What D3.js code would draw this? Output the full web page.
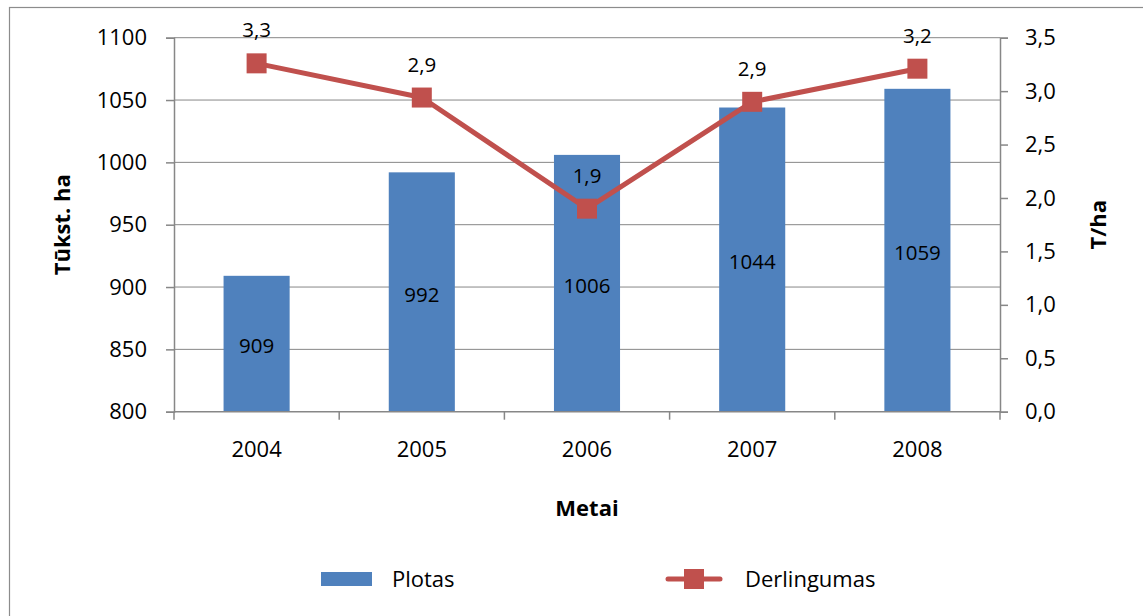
<!DOCTYPE html>
<html>
<head>
<meta charset="utf-8">
<script src="https://cdn.jsdelivr.net/npm/d3@7/dist/d3.min.js"></script>
<style>
  html, body { margin: 0; padding: 0; background: #fff; }
  svg { display: block; font-family: "Open Sans", sans-serif; }
</style>
</head>
<body>
<svg id="chart" width="1143" height="616"></svg>
<script>
const years = ["2004", "2005", "2006", "2007", "2008"];
const plotas = [909, 992, 1006, 1044, 1059];
const derlingumas = [3.26, 2.94, 1.9, 2.9, 3.21];
const derlingumasLabels = ["3,3", "2,9", "1,9", "2,9", "3,2"];
const leftTicks = [800, 850, 900, 950, 1000, 1050, 1100];
const rightTicks = [0, 0.5, 1, 1.5, 2, 2.5, 3, 3.5];

const svg = d3.select("#chart");
const L = 174, R = 1000, T = 37.7, B = 411.7;
const gridColor = "#878787";
const barColor = "#4F81BD";
const lineColor = "#C0504D";

// outer border
svg.append("rect").attr("x", 9.5).attr("y", 7.5).attr("width", 1150).attr("height", 620)
  .attr("fill", "none").attr("stroke", "#8c8c8c").attr("stroke-width", 1.2);

const x = d3.scaleBand().domain(years).range([L, R]).paddingInner(0.6).paddingOuter(0.3);
const yL = d3.scaleLinear().domain([800, 1100]).range([B, T]);
const yR = d3.scaleLinear().domain([0, 3.5]).range([B, T]);

// gridlines
svg.append("g").selectAll("line").data(leftTicks.filter(d => d !== 800)).join("line")
  .attr("x1", L).attr("x2", R).attr("y1", d => yL(d)).attr("y2", d => yL(d))
  .attr("stroke", gridColor).attr("stroke-width", 1);

// bars
svg.append("g").selectAll("rect").data(years).join("rect")
  .attr("x", d => x(d)).attr("width", x.bandwidth())
  .attr("y", (d, i) => yL(plotas[i])).attr("height", (d, i) => B - yL(plotas[i]))
  .attr("fill", barColor);

// left axis
const gL = svg.append("g").attr("transform", `translate(${L},0)`)
  .call(d3.axisLeft(yL).tickValues(leftTicks).tickSize(8).tickPadding(19).tickFormat(d3.format("d")));
// right axis
const gR = svg.append("g").attr("transform", `translate(${R},0)`)
  .call(d3.axisRight(yR).tickValues(rightTicks).tickSize(8).tickPadding(17)
    .tickFormat(d => d.toFixed(1).replace(".", ",")));
// bottom axis
const gB = svg.append("g").attr("transform", `translate(0,${B})`)
  .call(d3.axisBottom(x).tickSize(0).tickPadding(30));
[gL, gR, gB].forEach(g => {
  g.select(".domain").attr("stroke", gridColor).attr("stroke-width", 1.5);
  g.selectAll(".tick line").attr("stroke", gridColor).attr("stroke-width", 1.5);
  g.selectAll("text").attr("font-size", 22).attr("fill", "#000").attr("font-family", "Open Sans");
});
gB.select(".domain").attr("d", `M${L},0H${R}`);
// category boundary ticks
const bounds = years.map(d => x(d) - x.step() * x.paddingInner() / 2).concat([R]);
bounds[0] = L;
gB.selectAll(".bt").data(bounds).join("line").attr("class", "bt")
  .attr("x1", d => d).attr("x2", d => d).attr("y1", 0).attr("y2", 8)
  .attr("stroke", gridColor).attr("stroke-width", 1.5);

// bar labels
svg.append("g").selectAll("text").data(years).join("text")
  .attr("x", d => x(d) + x.bandwidth() / 2)
  .attr("y", (d, i) => (yL(plotas[i]) + B) / 2 + 1.5)
  .attr("text-anchor", "middle").attr("dominant-baseline", "central")
  .attr("font-size", 20.5).attr("fill", "#000")
  .text((d, i) => plotas[i]);

// line
const cx = d => x(d) + x.bandwidth() / 2;
const line = d3.line().x((d, i) => cx(years[i])).y(d => yR(d));
svg.append("path").datum(derlingumas).attr("d", line)
  .attr("fill", "none").attr("stroke", lineColor).attr("stroke-width", 5).attr("stroke-linejoin", "round");
svg.append("g").selectAll("rect").data(derlingumas).join("rect")
  .attr("x", (d, i) => cx(years[i]) - 10).attr("y", d => yR(d) - 10)
  .attr("width", 20).attr("height", 20).attr("fill", lineColor);
svg.append("g").selectAll("text").data(derlingumas).join("text")
  .attr("x", (d, i) => cx(years[i])).attr("y", d => yR(d) - 34)
  .attr("text-anchor", "middle").attr("dominant-baseline", "central")
  .attr("font-size", 20.5).attr("fill", "#000")
  .text((d, i) => derlingumasLabels[i]);

// axis titles
svg.append("text").attr("transform", `translate(61,${(T + B) / 2}) rotate(-90)`)
  .attr("text-anchor", "middle").attr("dominant-baseline", "central")
  .attr("font-size", 22).attr("font-weight", "bold").text("Tūkst. ha");
svg.append("text").attr("transform", `translate(1097,${(T + B) / 2}) rotate(-90)`)
  .attr("text-anchor", "middle").attr("dominant-baseline", "central")
  .attr("font-size", 22).attr("font-weight", "bold").text("T/ha");
svg.append("text").attr("x", (L + R) / 2).attr("y", 507)
  .attr("text-anchor", "middle").attr("dominant-baseline", "central")
  .attr("font-size", 22).attr("font-weight", "bold").text("Metai");

// legend
const leg = svg.append("g");
leg.append("rect").attr("x", 321).attr("y", 572).attr("width", 51).attr("height", 14).attr("fill", barColor);
leg.append("text").attr("x", 392).attr("y", 578).attr("dominant-baseline", "central")
  .attr("font-size", 22).text("Plotas");
leg.append("line").attr("x1", 668).attr("x2", 720).attr("y1", 579).attr("y2", 579)
  .attr("stroke", lineColor).attr("stroke-width", 5).attr("stroke-linecap", "round");
leg.append("rect").attr("x", 684).attr("y", 569).attr("width", 20).attr("height", 20).attr("fill", lineColor);
leg.append("text").attr("x", 745).attr("y", 578).attr("dominant-baseline", "central")
  .attr("font-size", 22).text("Derlingumas");
</script>
</body>
</html>
